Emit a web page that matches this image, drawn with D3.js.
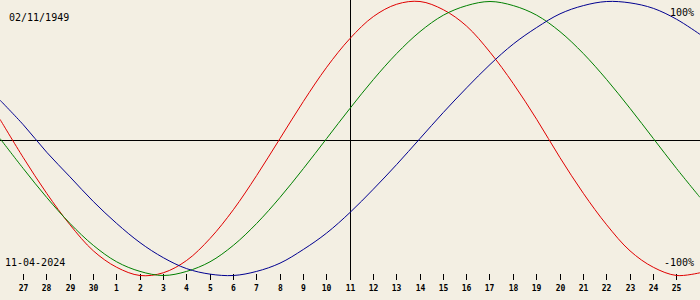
<!DOCTYPE html>
<html>
<head>
<meta charset="utf-8">
<script src="https://cdn.jsdelivr.net/npm/d3@7"></script>
<style>
  body { margin: 0; background: #f3efe3; }
  svg { display: block; }
  text { font-family: "DejaVu Sans Mono", monospace; fill: #000; }
</style>
</head>
<body>
<div id="viz"></div>
<script>
// day labels under the ticks (one per day, centre day = 11)
const dayLabels = [27, 28, 29, 30, 1, 2, 3, 4, 5, 6, 7, 8, 9, 10, 11, 12, 13, 14, 15, 16, 17, 18, 19, 20, 21, 22, 23, 24, 25];
const centerDay = 11;

// cycle values in %, one per day from the left edge (index 0) to the right edge (index 30)
const physical = [14, -14, -40, -63, -82, -94, -100, -98, -89, -73, -52, -27, 0, 27, 52, 73, 89, 98, 100, 94, 82, 63, 40, 14, -14, -40, -63, -82, -94, -100, -98];
const emotional = [0, -22, -43, -62, -78, -90, -97, -100, -97, -90, -78, -62, -43, -22, 0, 22, 43, 62, 78, 90, 97, 100, 97, 90, 78, 62, 43, 22, 0, -22, -43];
const intellectual = [28, 10, -10, -28, -46, -62, -76, -87, -95, -99, -100, -97, -91, -81, -69, -54, -37, -19, 0, 19, 37, 54, 69, 81, 91, 97, 100, 99, 95, 87, 76];

const birthDate = '02/11/1949';
const currentDate = '11-04-2024';

function drawViz() {
  const width = 700;
  const height = 300;

  const svg = d3.select('#viz')
    .html('')
    .append('svg')
    .attr('width', width)
    .attr('height', height);

  const x = d3.scaleLinear()
    .domain([0, physical.length - 1])
    .range([0, width]);

  const y = d3.scaleLinear()
    .domain([-100, 100])
    .range([275.5, 1.5]);

  // zero line and today line
  svg.append('line')
    .attr('x1', 0).attr('x2', width)
    .attr('y1', 140.5).attr('y2', 140.5)
    .attr('stroke', '#000')
    .attr('shape-rendering', 'crispEdges');

  const centerIdx = dayLabels.indexOf(centerDay) + 1;
  svg.append('line')
    .attr('x1', Math.floor(x(centerIdx)) + 0.5).attr('x2', Math.floor(x(centerIdx)) + 0.5)
    .attr('y1', 0).attr('y2', 280)
    .attr('stroke', '#000')
    .attr('shape-rendering', 'crispEdges');

  // day ticks
  const ticks = svg.append('g');
  ticks.selectAll('line')
    .data(dayLabels)
    .enter()
    .append('line')
    .attr('x1', (d, i) => Math.floor(x(i + 1)) + 0.5)
    .attr('x2', (d, i) => Math.floor(x(i + 1)) + 0.5)
    .attr('y1', 274)
    .attr('y2', 280)
    .attr('stroke', '#000')
    .attr('shape-rendering', 'crispEdges');

  ticks.selectAll('text')
    .data(dayLabels)
    .enter()
    .append('text')
    .attr('x', (d, i) => Math.floor(x(i + 1)) + 0.5)
    .attr('y', 291)
    .attr('text-anchor', 'middle')
    .attr('font-size', 8)
    .attr('font-weight', 'bold')
    .text(d => d);

  // curves
  const line = d3.line()
    .x((d, i) => x(i))
    .y(d => y(d))
    .curve(d3.curveCatmullRom);

  const series = [
    { values: physical, color: '#e00000' },
    { values: emotional, color: '#008000' },
    { values: intellectual, color: '#000090' }
  ];

  svg.selectAll('path.cycle')
    .data(series)
    .enter()
    .append('path')
    .attr('class', 'cycle')
    .attr('d', d => line(d.values))
    .attr('fill', 'none')
    .attr('stroke', d => d.color)
    .attr('stroke-width', 1);

  // texts
  svg.append('text')
    .attr('x', 9).attr('y', 21)
    .attr('font-size', 10)
    .text(birthDate);

  svg.append('text')
    .attr('x', 5).attr('y', 266)
    .attr('font-size', 10)
    .text(currentDate);

  svg.append('text')
    .attr('x', 694).attr('y', 16)
    .attr('text-anchor', 'end')
    .attr('font-size', 10)
    .text('100%');

  svg.append('text')
    .attr('x', 694).attr('y', 266)
    .attr('text-anchor', 'end')
    .attr('font-size', 10)
    .text('-100%');
}

drawViz();
</script>
</body>
</html>
